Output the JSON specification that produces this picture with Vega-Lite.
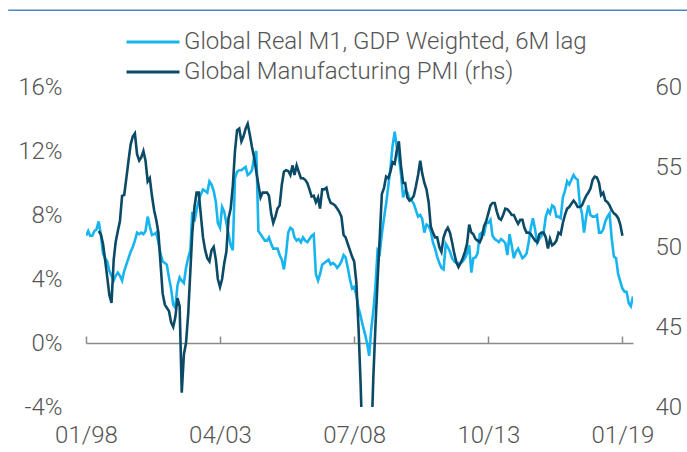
{
"$schema": "https://vega.github.io/schema/vega-lite/v6.json",
"width": 547, "height": 320,
"autosize": {"type": "none"},
"padding": {"left": 86, "top": 87, "right": 54, "bottom": 45},
"config": {"view": {"stroke": null}, "font": "Roboto",
  "axis": {"labelFont": "Roboto", "labelFontSize": 24, "labelFontWeight": 300, "labelColor": "#555555", "grid": false, "title": null}},
"datasets": {"top": [{"a": 1}]},
"data": {"values": [
{"d":"1998-01-01","m":6.7},{"d":"1998-02-01","m":7.0},{"d":"1998-03-01","m":6.7},{"d":"1998-04-01","m":6.7},{"d":"1998-05-01","m":7.0},{"d":"1998-06-01","m":7.1},
{"d":"1998-07-01","m":7.6,"p":51.0},{"d":"1998-08-01","m":6.8,"p":50.8},{"d":"1998-09-01","m":5.6,"p":50.2},{"d":"1998-10-01","m":5.3,"p":49.2},{"d":"1998-11-01","m":5.1,"p":48.1},{"d":"1998-12-01","m":4.5,"p":47.0},
{"d":"1999-01-01","m":4.2,"p":46.5},{"d":"1999-02-01","m":3.9,"p":49.2},{"d":"1999-03-01","m":4.2,"p":50.3},{"d":"1999-04-01","m":4.4,"p":51.0},{"d":"1999-05-01","m":4.2,"p":51.6},{"d":"1999-06-01","m":3.9,"p":53.2},
{"d":"1999-07-01","m":4.5,"p":53.25},{"d":"1999-08-01","m":4.9,"p":54.3},{"d":"1999-09-01","m":5.3,"p":55.4},{"d":"1999-10-01","m":5.7,"p":56.4},{"d":"1999-11-01","m":6.0,"p":56.9},{"d":"1999-12-01","m":6.4,"p":57.1},
{"d":"2000-01-01","m":6.9,"p":55.8},{"d":"2000-02-01","m":6.8,"p":55.4},{"d":"2000-03-01","m":6.9,"p":55.6},{"d":"2000-04-01","m":6.8,"p":56.0},{"d":"2000-05-01","m":7.0,"p":55.4},{"d":"2000-06-01","m":7.9,"p":54.1},
{"d":"2000-07-01","m":7.3,"p":54.3},{"d":"2000-08-01","m":6.75,"p":53.2},{"d":"2000-09-01","m":6.8,"p":52.3},{"d":"2000-10-01","m":6.9,"p":51.7},{"d":"2000-11-01","m":6.3,"p":50.9},{"d":"2000-12-01","m":5.6,"p":49.0},
{"d":"2001-01-01","m":5.1,"p":47.1},{"d":"2001-02-01","m":5.0,"p":46.4},{"d":"2001-03-01","m":4.9,"p":46.2},{"d":"2001-04-01","m":4.1,"p":46.0},{"d":"2001-05-01","m":3.4,"p":45.3},{"d":"2001-06-01","m":2.4,"p":45.0},
{"d":"2001-07-01","m":2.2,"p":45.6},{"d":"2001-08-01","m":3.6,"p":46.8},{"d":"2001-09-01","m":4.1,"p":46.3},{"d":"2001-10-01","m":3.9,"p":40.9},{"d":"2001-11-01","m":3.75,"p":43.3},{"d":"2001-12-01","m":4.7,"p":44.0},
{"d":"2002-01-01","m":5.3,"p":45.8},{"d":"2002-02-01","m":5.8,"p":48.5},{"d":"2002-03-01","m":8.2,"p":50.9},{"d":"2002-04-01","m":7.6,"p":52.5},{"d":"2002-05-01","m":8.3,"p":53.4},{"d":"2002-06-01","m":8.9,"p":53.4},
{"d":"2002-07-01","m":9.3,"p":52.0},{"d":"2002-08-01","m":9.6,"p":50.6},{"d":"2002-09-01","m":9.5,"p":49.8},{"d":"2002-10-01","m":9.4,"p":49.3},{"d":"2002-11-01","m":10.1,"p":49.1},{"d":"2002-12-01","m":9.9,"p":49.8},
{"d":"2003-01-01","m":9.5,"p":50.0},{"d":"2003-02-01","m":8.8,"p":49.2},{"d":"2003-03-01","m":7.5,"p":48.0},{"d":"2003-04-01","m":7.2,"p":47.5},{"d":"2003-05-01","m":8.5,"p":48.0},{"d":"2003-06-01","m":8.2,"p":49.0},
{"d":"2003-07-01","m":7.5,"p":49.7},{"d":"2003-08-01","m":6.8,"p":51.8},{"d":"2003-09-01","m":6.1,"p":52.4},{"d":"2003-10-01","m":5.8,"p":53.8},{"d":"2003-11-01","m":10.3,"p":56.0},{"d":"2003-12-01","m":10.7,"p":57.3},
{"d":"2004-01-01","m":10.8,"p":57.4},{"d":"2004-02-01","m":10.8,"p":56.6},{"d":"2004-03-01","m":10.9,"p":56.9},{"d":"2004-04-01","m":11.0,"p":57.4},{"d":"2004-05-01","m":10.5,"p":57.7},{"d":"2004-06-01","m":10.6,"p":57.0},
{"d":"2004-07-01","m":10.8,"p":56.25},{"d":"2004-08-01","m":11.6,"p":55.6},{"d":"2004-09-01","m":12.0,"p":54.7},{"d":"2004-10-01","m":7.0,"p":53.9},{"d":"2004-11-01","m":6.8,"p":53.1},{"d":"2004-12-01","m":6.6,"p":53.4},
{"d":"2005-01-01","m":6.4,"p":53.4},{"d":"2005-02-01","m":6.4,"p":53.4},{"d":"2005-03-01","m":6.6,"p":53.2},{"d":"2005-04-01","m":6.2,"p":52.1},{"d":"2005-05-01","m":5.9,"p":51.5},{"d":"2005-06-01","m":5.9,"p":51.9},
{"d":"2005-07-01","m":5.9,"p":52.4},{"d":"2005-08-01","m":5.5,"p":52.6},{"d":"2005-09-01","m":5.2,"p":53.9},{"d":"2005-10-01","m":4.6,"p":54.7},{"d":"2005-11-01","m":5.6,"p":54.8},{"d":"2005-12-01","m":6.9,"p":54.75},
{"d":"2006-01-01","m":7.2,"p":54.5},{"d":"2006-02-01","m":7.1,"p":55.1},{"d":"2006-03-01","m":6.6,"p":54.5},{"d":"2006-04-01","m":6.4,"p":55.1},{"d":"2006-05-01","m":6.5,"p":54.7},{"d":"2006-06-01","m":6.3,"p":54.3},
{"d":"2006-07-01","m":6.6,"p":54.3},{"d":"2006-08-01","m":6.4,"p":54.2},{"d":"2006-09-01","m":6.3,"p":54.0},{"d":"2006-10-01","m":6.5,"p":53.6},{"d":"2006-11-01","m":6.7,"p":53.15},{"d":"2006-12-01","m":6.8,"p":53.2},
{"d":"2007-01-01","m":4.3,"p":52.8},{"d":"2007-02-01","m":3.9,"p":53.1},{"d":"2007-03-01","m":4.3,"p":52.4},{"d":"2007-04-01","m":4.9,"p":53.6},{"d":"2007-05-01","m":5.0,"p":53.6},{"d":"2007-06-01","m":5.1,"p":53.7},
{"d":"2007-07-01","m":5.2,"p":53.1},{"d":"2007-08-01","m":4.9,"p":52.75},{"d":"2007-09-01","m":5.0,"p":52.7},{"d":"2007-10-01","m":4.9,"p":52.6},{"d":"2007-11-01","m":4.7,"p":52.4},{"d":"2007-12-01","m":4.85,"p":52.2},
{"d":"2008-01-01","m":5.1,"p":51.9},{"d":"2008-02-01","m":5.5,"p":50.75},{"d":"2008-03-01","m":5.35,"p":50.6},{"d":"2008-04-01","m":4.7,"p":50.2},{"d":"2008-05-01","m":4.0,"p":49.8},{"d":"2008-06-01","m":3.4,"p":49.4},
{"d":"2008-07-01","m":3.5,"p":49.1},{"d":"2008-08-01","m":3.0,"p":47.8},{"d":"2008-09-01","m":2.2,"p":45.0},{"d":"2008-10-01","m":1.7,"p":41.5},{"d":"2008-11-01","m":1.1,"p":37.0},{"d":"2008-12-01","m":0.6,"p":34.5},
{"d":"2009-01-01","m":0.0,"p":33.7},{"d":"2009-02-01","m":-0.8,"p":34.6},{"d":"2009-03-01","m":0.8,"p":37.5},{"d":"2009-04-01","m":2.0,"p":41.8},{"d":"2009-05-01","m":3.5,"p":45.0},{"d":"2009-06-01","m":5.8,"p":47.9},
{"d":"2009-07-01","m":5.6,"p":50.5},{"d":"2009-08-01","m":6.8,"p":53.3},{"d":"2009-09-01","m":7.8,"p":53.7},{"d":"2009-10-01","m":8.7,"p":54.4},{"d":"2009-11-01","m":9.8,"p":54.3},{"d":"2009-12-01","m":10.9,"p":54.7},
{"d":"2010-01-01","m":12.3,"p":55.3},{"d":"2010-02-01","m":13.2,"p":55.2},{"d":"2010-03-01","m":12.3,"p":56.0},{"d":"2010-04-01","m":11.6,"p":56.6},{"d":"2010-05-01","m":10.6,"p":55.1},{"d":"2010-06-01","m":9.1,"p":54.0},
{"d":"2010-07-01","m":9.5,"p":54.0},{"d":"2010-08-01","m":9.4,"p":53.1},{"d":"2010-09-01","m":9.0,"p":52.9},{"d":"2010-10-01","m":8.9,"p":53.0},{"d":"2010-11-01","m":8.7,"p":53.2},{"d":"2010-12-01","m":8.3,"p":53.8},
{"d":"2011-01-01","m":7.9,"p":54.5},{"d":"2011-02-01","m":8.0,"p":55.4},{"d":"2011-03-01","m":7.75,"p":54.6},{"d":"2011-04-01","m":6.9,"p":54.0},{"d":"2011-05-01","m":7.4,"p":53.6},{"d":"2011-06-01","m":7.3,"p":52.8},
{"d":"2011-07-01","m":7.0,"p":51.3},{"d":"2011-08-01","m":6.3,"p":50.9},{"d":"2011-09-01","m":5.9,"p":50.6},{"d":"2011-10-01","m":5.4,"p":50.6},{"d":"2011-11-01","m":5.0,"p":50.0},{"d":"2011-12-01","m":4.7,"p":49.7},
{"d":"2012-01-01","m":4.6,"p":50.6},{"d":"2012-02-01","m":6.2,"p":51.0},{"d":"2012-03-01","m":6.0,"p":51.2},{"d":"2012-04-01","m":5.7,"p":50.9},{"d":"2012-05-01","m":5.3,"p":50.3},{"d":"2012-06-01","m":5.1,"p":49.6},
{"d":"2012-07-01","m":5.0,"p":49.06},{"d":"2012-08-01","m":5.0,"p":48.75},{"d":"2012-09-01","m":5.0,"p":49.0},{"d":"2012-10-01","m":5.1,"p":49.3},{"d":"2012-11-01","m":5.3,"p":49.7},{"d":"2012-12-01","m":5.6,"p":50.2},
{"d":"2013-01-01","m":6.1,"p":51.4},{"d":"2013-02-01","m":4.4,"p":50.9},{"d":"2013-03-01","m":5.3,"p":50.8},{"d":"2013-04-01","m":5.35,"p":50.5},{"d":"2013-05-01","m":5.6,"p":50.4},{"d":"2013-06-01","m":6.8,"p":50.3},
{"d":"2013-07-01","m":6.9,"p":50.6},{"d":"2013-08-01","m":6.8,"p":51.3},{"d":"2013-09-01","m":7.5,"p":51.6},{"d":"2013-10-01","m":7.5,"p":52.1},{"d":"2013-11-01","m":7.7,"p":52.6},{"d":"2013-12-01","m":6.7,"p":52.75},
{"d":"2014-01-01","m":6.5,"p":52.75},{"d":"2014-02-01","m":6.4,"p":52.2},{"d":"2014-03-01","m":6.3,"p":51.8},{"d":"2014-04-01","m":6.5,"p":51.7},{"d":"2014-05-01","m":6.4,"p":52.0},{"d":"2014-06-01","m":6.25,"p":52.4},
{"d":"2014-07-01","m":5.5,"p":52.35},{"d":"2014-08-01","m":6.8,"p":52.2},{"d":"2014-09-01","m":6.1,"p":52.0},{"d":"2014-10-01","m":5.3,"p":52.0},{"d":"2014-11-01","m":5.7,"p":51.7},{"d":"2014-12-01","m":5.9,"p":51.45},
{"d":"2015-01-01","m":5.6,"p":51.7},{"d":"2015-02-01","m":5.3,"p":51.7},{"d":"2015-03-01","m":5.4,"p":51.2},{"d":"2015-04-01","m":5.6,"p":50.9},{"d":"2015-05-01","m":6.3,"p":50.9},{"d":"2015-06-01","m":7.2,"p":50.8},
{"d":"2015-07-01","m":7.8,"p":50.6},{"d":"2015-08-01","m":7.1,"p":50.4},{"d":"2015-09-01","m":6.25,"p":50.3},{"d":"2015-10-01","m":6.5,"p":50.8},{"d":"2015-11-01","m":6.7,"p":50.9},{"d":"2015-12-01","m":6.9,"p":50.9},
{"d":"2016-01-01","m":7.9,"p":50.6},{"d":"2016-02-01","m":8.3,"p":49.9},{"d":"2016-03-01","m":8.1,"p":50.5},{"d":"2016-04-01","m":8.6,"p":50.1},{"d":"2016-05-01","m":8.5,"p":50.2},{"d":"2016-06-01","m":7.9,"p":50.4},
{"d":"2016-07-01","m":7.9,"p":50.9},{"d":"2016-08-01","m":7.8,"p":50.8},{"d":"2016-09-01","m":9.1,"p":51.5},{"d":"2016-10-01","m":9.5,"p":52.0},{"d":"2016-11-01","m":10.1,"p":52.4},{"d":"2016-12-01","m":9.9,"p":52.5},
{"d":"2017-01-01","m":10.2,"p":52.7},{"d":"2017-02-01","m":10.5,"p":52.9},{"d":"2017-03-01","m":10.3,"p":52.75},{"d":"2017-04-01","m":10.2,"p":52.5},{"d":"2017-05-01","m":8.7,"p":52.5},{"d":"2017-06-01","m":8.1,"p":52.6},
{"d":"2017-07-01","m":6.9,"p":52.9},{"d":"2017-08-01","m":7.9,"p":53.2},{"d":"2017-09-01","m":8.6,"p":53.4},{"d":"2017-10-01","m":8.0,"p":53.65},{"d":"2017-11-01","m":7.9,"p":54.2},{"d":"2017-12-01","m":7.9,"p":54.4},
{"d":"2018-01-01","m":8.0,"p":54.35},{"d":"2018-02-01","m":6.9,"p":54.0},{"d":"2018-03-01","m":6.9,"p":53.25},{"d":"2018-04-01","m":7.1,"p":53.4},{"d":"2018-05-01","m":7.6,"p":52.9},{"d":"2018-06-01","m":7.9,"p":52.8},
{"d":"2018-07-01","m":8.1,"p":52.6},{"d":"2018-08-01","m":6.5,"p":52.3},{"d":"2018-09-01","m":5.4,"p":52.1},{"d":"2018-10-01","m":5.3,"p":52.0},{"d":"2018-11-01","m":4.3,"p":51.8},{"d":"2018-12-01","m":3.85,"p":51.4},
{"d":"2019-01-01","m":3.4,"p":50.7},{"d":"2019-02-01","m":3.2},{"d":"2019-03-01","m":3.2},{"d":"2019-04-01","m":2.5},{"d":"2019-05-01","m":2.3},{"d":"2019-06-01","m":2.9}
]},
"layer": [
  {"mark": {"type": "line", "strokeWidth": 2.6, "clip": true},
   "encoding": {
     "x": {"field": "d", "type": "temporal",
       "scale": {"domain": [{"year": 1998, "month": 1, "date": 1, "utc": true}, {"year": 2019, "month": 6, "date": 1, "utc": true}]},
       "axis": {"values": [{"year": 1998, "month": 1, "date": 1, "utc": true}, {"year": 2003, "month": 4, "date": 1, "utc": true}, {"year": 2008, "month": 7, "date": 1, "utc": true}, {"year": 2013, "month": 10, "date": 1, "utc": true}, {"year": 2019, "month": 1, "date": 1, "utc": true}],
         "labelExpr": "utcFormat(datum.value, '%m/%y')", "labelFlush": false, "labelOverlap": false,
         "offset": -64, "domainColor": "#8a8a8a", "domainWidth": 1.5, "tickColor": "#8a8a8a", "tickWidth": 1.5, "tickSize": -7, "labelPadding": 87, "grid": false}},
     "y": {"field": "m", "type": "quantitative", "scale": {"domain": [-4, 16], "nice": false, "zero": false},
       "axis": {"values": [-4, 0, 4, 8, 12, 16], "labelExpr": "datum.value + '%'", "domain": false, "ticks": false, "tickSize": 0, "labelPadding": 24, "grid": false}},
     "color": {"datum": "Global Real M1, GDP Weighted, 6M lag",
       "scale": {"domain": ["Global Real M1, GDP Weighted, 6M lag", "Global Manufacturing PMI (rhs)"], "range": ["#17b4ef", "#0b4a66"]},
       "legend": {"orient": "none", "legendX": 39, "legendY": -58, "title": null, "symbolType": "stroke", "symbolSize": 2809, "symbolStrokeWidth": 3, "labelFont": "Roboto", "labelFontSize": 24, "labelFontWeight": 300, "labelColor": "#555555", "labelLimit": 0, "clipHeight": 26, "rowPadding": 4, "labelOffset": 3, "padding": 0}}
   }},
  {"mark": {"type": "line", "strokeWidth": 2.6, "clip": true},
   "encoding": {
     "x": {"field": "d", "type": "temporal"},
     "y": {"field": "p", "type": "quantitative", "scale": {"domain": [40, 60], "nice": false, "zero": false},
       "axis": {"orient": "right", "values": [40, 45, 50, 55, 60], "domain": false, "ticks": false, "tickSize": 0, "labelPadding": 22, "grid": false}},
     "color": {"datum": "Global Manufacturing PMI (rhs)"}
   }},
  {"data": {"name": "top"},
   "mark": {"type": "rule", "color": "#4a86c8", "strokeWidth": 1.5, "clip": false},
   "encoding": {
     "y": {"datum": 20.8, "type": "quantitative", "scale": {"domain": [-4, 16], "nice": false, "zero": false}, "axis": null},
     "x": {"datum": {"year": 1994, "month": 12, "date": 15, "utc": true}, "type": "temporal"},
     "x2": {"datum": {"year": 2021, "month": 8, "date": 1, "utc": true}}
   }}
],
"resolve": {"scale": {"y": "independent"}}
}
